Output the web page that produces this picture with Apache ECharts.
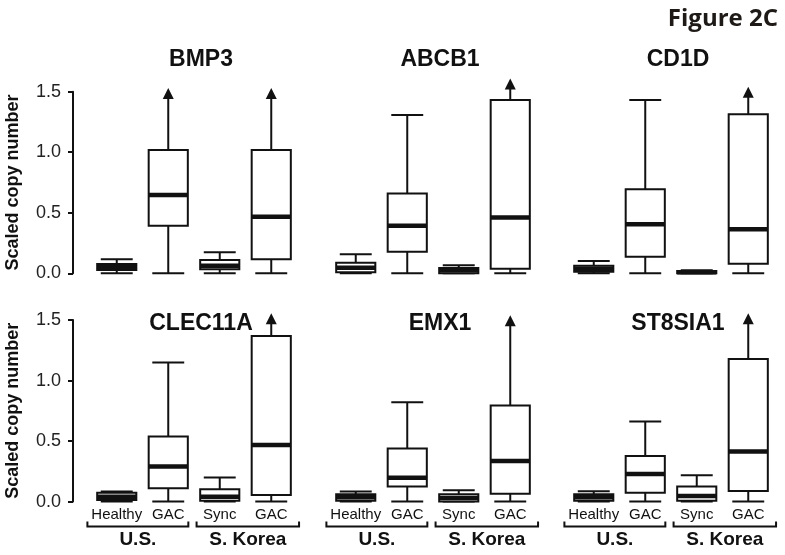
<!DOCTYPE html>
<html>
<head>
<meta charset="utf-8">
<script src="https://cdn.jsdelivr.net/npm/echarts@6/dist/echarts.min.js"></script>
<style>html,body{margin:0;padding:0;background:#fff}#c{width:785px;height:555px}</style>
</head>
<body>
<div id="c"></div>
<script>
// ---- data ----
const genes = ['BMP3', 'ABCB1', 'CD1D', 'CLEC11A', 'EMX1', 'ST8SIA1'];
const categories = ['Healthy', 'GAC', 'Sync', 'GAC'];
const groups = ['U.S.', 'S. Korea'];
const yTicks = [0, 0.5, 1.0, 1.5];
// each box: [low, q1, median, q3, high]; high of a truncated box = arrow tip
const BMP3 = [[0, 0.027, 0.055, 0.077, 0.116], [0, 0.393, 0.647, 1.018, 1.53], [0, 0.033, 0.063, 0.11, 0.173], [0, 0.116, 0.468, 1.018, 1.53]];
const ABCB1 = [[0, 0.008, 0.046, 0.088, 0.157], [0, 0.178, 0.393, 0.66, 1.307], [0, 0.0, 0.025, 0.044, 0.066], [0, 0.038, 0.46, 1.431, 1.61]];
const CD1D = [[0, 0.013, 0.038, 0.063, 0.102], [0, 0.137, 0.405, 0.694, 1.431], [0, 0.0, 0.008, 0.02, 0.025], [0, 0.079, 0.363, 1.313, 1.54]];
const CLEC11A = [[0, 0.014, 0.041, 0.074, 0.083], [0, 0.11, 0.289, 0.537, 1.148], [0, 0.008, 0.041, 0.102, 0.2], [0, 0.055, 0.468, 1.368, 1.555]];
const EMX1 = [[0, 0.008, 0.035, 0.061, 0.083], [0, 0.124, 0.198, 0.438, 0.821], [0, 0.0, 0.03, 0.061, 0.094], [0, 0.064, 0.336, 0.793, 1.54]];
const ST8SIA1 = [[0, 0.006, 0.035, 0.061, 0.086], [0, 0.074, 0.229, 0.377, 0.661], [0, 0.008, 0.047, 0.124, 0.218], [0, 0.088, 0.413, 1.178, 1.555]];
// 1 = whisker truncated (drawn with an arrow)
const BMP3_arrow = [0, 1, 0, 1];
const ABCB1_arrow = [0, 0, 0, 1];
const CD1D_arrow = [0, 0, 0, 1];
const CLEC11A_arrow = [0, 0, 0, 1];
const EMX1_arrow = [0, 0, 0, 1];
const ST8SIA1_arrow = [0, 0, 0, 1];

const geneData = [BMP3, ABCB1, CD1D, CLEC11A, EMX1, ST8SIA1];
const geneArrows = [BMP3_arrow, ABCB1_arrow, CD1D_arrow, CLEC11A_arrow, EMX1_arrow, ST8SIA1_arrow];

// ---- layout ----
const FONT = '"Liberation Sans", Arial, Helvetica, sans-serif';
const gridLefts = [91, 330, 568];
const gridW = 206;
const gridTops = [91.7, 320];
const gridH = 181.6;
const INK = '#111';

const grids = [], xAxes = [], yAxes = [], series = [], titles = [];
for (let i = 0; i < 6; i++) {
  const col = i % 3, row = Math.floor(i / 3);
  grids.push({ left: gridLefts[col], top: gridTops[row], width: gridW, height: gridH });
  xAxes.push({
    type: 'category', gridIndex: i, data: categories,
    axisLine: { show: false }, axisTick: { show: false }, splitLine: { show: false },
    axisLabel: { show: row === 1, margin: 6, color: INK, fontFamily: FONT, fontSize: 15, interval: 0 }
  });
  const showY = col === 0;
  yAxes.push({
    type: 'value', gridIndex: i, min: yTicks[0], max: yTicks[yTicks.length - 1], interval: 0.5,
    show: showY, offset: 18,
    axisLine: { show: true, lineStyle: { color: INK, width: 2 } },
    axisTick: { show: true, length: 5, lineStyle: { color: INK, width: 2 } },
    splitLine: { show: false },
    axisLabel: { color: '#222', fontFamily: FONT, fontSize: 18, margin: 12, formatter: v => v.toFixed(1) },
    name: 'Scaled copy number', nameLocation: 'middle', nameGap: 51,
    nameTextStyle: { color: INK, fontFamily: FONT, fontSize: 18, fontWeight: 'bold' }
  });
  titles.push({
    text: genes[i], left: gridLefts[col] + gridW / 2 + 2, textAlign: 'center',
    top: row === 0 ? 43 : 307,
    textStyle: { color: INK, fontFamily: FONT, fontSize: 23, fontWeight: 'bold' }
  });
  const rows = geneData[i].map((b, k) => [k, b[0], b[1], b[2], b[3], b[4], geneArrows[i][k]]);
  series.push({
    type: 'custom', xAxisIndex: i, yAxisIndex: i, data: rows,
    encode: { x: 0, y: [1, 2, 3, 4, 5] }, clip: false,
    renderItem: function (params, api) {
      const x = api.value(0);
      const band = api.size([1, 0])[0];
      const bw = band * 0.76, cw = band * 0.62;
      const pLow = api.coord([x, api.value(1)]);
      const pQ1 = api.coord([x, api.value(2)]);
      const pMed = api.coord([x, api.value(3)]);
      const pQ3 = api.coord([x, api.value(4)]);
      const pHigh = api.coord([x, api.value(5)]);
      const arrow = api.value(6) === 1;
      const cx = pQ1[0];
      const ls = { stroke: INK, lineWidth: 2, fill: null };
      const children = [];
      const topEnd = arrow ? pHigh[1] + 9 : pHigh[1];
      children.push({ type: 'line', shape: { x1: cx, y1: pQ3[1], x2: cx, y2: topEnd }, style: ls });
      children.push({ type: 'line', shape: { x1: cx, y1: pQ1[1], x2: cx, y2: pLow[1] }, style: ls });
      children.push({ type: 'line', shape: { x1: cx - cw / 2, y1: pLow[1], x2: cx + cw / 2, y2: pLow[1] }, style: ls });
      if (arrow) {
        children.push({ type: 'polygon', shape: { points: [[cx, pHigh[1]], [cx - 5.5, pHigh[1] + 11], [cx + 5.5, pHigh[1] + 11]] }, style: { fill: INK } });
      } else {
        children.push({ type: 'line', shape: { x1: cx - cw / 2, y1: pHigh[1], x2: cx + cw / 2, y2: pHigh[1] }, style: ls });
      }
      children.push({ type: 'rect', shape: { x: cx - bw / 2, y: pQ3[1], width: bw, height: pQ1[1] - pQ3[1] }, style: { fill: '#fff', stroke: INK, lineWidth: 2 } });
      children.push({ type: 'line', shape: { x1: cx - bw / 2, y1: pMed[1], x2: cx + bw / 2, y2: pMed[1] }, style: { stroke: INK, lineWidth: 4.5 } });
      return { type: 'group', children: children };
    }
  });
  if (row === 1) {
    series.push({
      type: 'custom', xAxisIndex: i, yAxisIndex: i, clip: false,
      data: groups.map((g, k) => [2 * k, 2 * k + 1, k]),
      encode: { x: [0, 1] },
      renderItem: function (params, api) {
        const k = api.value(2);
        const band = api.size([1, 0])[0];
        const p0 = api.coord([api.value(0), 0]);
        const p1 = api.coord([api.value(1), 0]);
        const xl = p0[0] - band * (k === 0 ? 0.57 : 0.45);
        const xr = p1[0] + band * (k === 0 ? 0.39 : 0.54);
        const yb = p0[1] + 25, yt = p0[1] + 20;
        return {
          type: 'group', children: [
            { type: 'polyline', shape: { points: [[xl, yt], [xl, yb], [xr, yb], [xr, yt]] }, style: { stroke: INK, lineWidth: 2, fill: null } },
            { type: 'text', style: { text: groups[k], x: (xl + xr) / 2, y: yb + 13.5, align: 'center', verticalAlign: 'middle', fill: INK, font: 'bold 19px ' + FONT } }
          ]
        };
      }
    });
  }
}
titles.push({
  text: 'Figure 2C', right: 2, top: 2,
  textStyle: { color: '#1e1a17', fontFamily: '"Open Sans", Lato, sans-serif', fontSize: 24, fontWeight: 'bold' }
});

const chart = echarts.init(document.getElementById('c'), null, { renderer: 'canvas' });
chart.setOption({
  animation: false, backgroundColor: '#fff',
  title: titles, grid: grids, xAxis: xAxes, yAxis: yAxes, series: series
});
</script>
</body>
</html>
